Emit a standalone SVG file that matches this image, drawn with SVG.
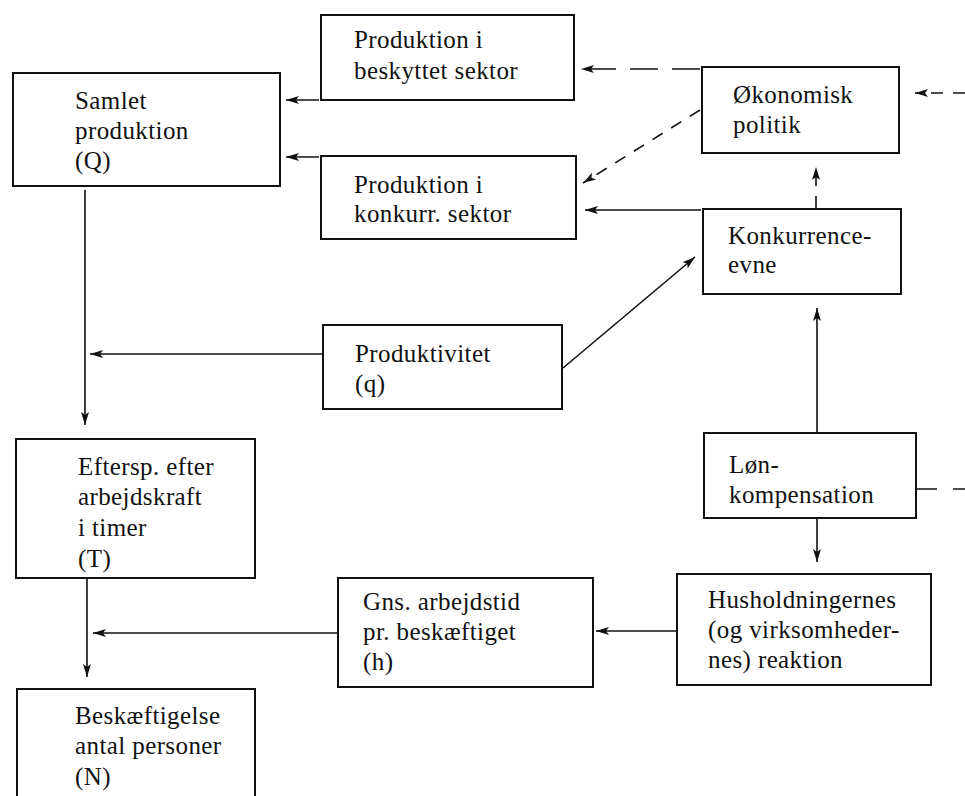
<svg xmlns="http://www.w3.org/2000/svg" width="965" height="796" viewBox="0 0 965 796">
<style>
.box{fill:#fff;stroke:#111;stroke-width:2}
.t{font-family:"Liberation Serif","Times New Roman",serif;font-size:25px;letter-spacing:0.4px;fill:#111}
.c{fill:none;stroke:#111;stroke-width:1.6}
.d{stroke-dasharray:28 14}
.ds{stroke-dasharray:12 10}
</style>
<defs>
<marker id="ah" markerWidth="14" markerHeight="10" refX="13" refY="5" orient="auto" markerUnits="userSpaceOnUse">
<path d="M0,1 L13,5 L0,9 L3,5 z" fill="#111"/>
</marker>
</defs>
<rect width="965" height="796" fill="#fff"/>
<g id="connectors">
<line class="c" x1="319" y1="100" x2="286" y2="100" marker-end="url(#ah)"/>
<line class="c" x1="319" y1="157" x2="286" y2="157" marker-end="url(#ah)"/>
<line class="c d" x1="700" y1="69" x2="581" y2="69" marker-end="url(#ah)"/>
<line class="c ds" x1="965" y1="93" x2="915" y2="93" marker-end="url(#ah)"/>
<line class="c ds" x1="700" y1="110" x2="583" y2="183" marker-end="url(#ah)"/>
<line class="c ds" x1="816" y1="208" x2="816" y2="167" marker-end="url(#ah)"/>
<line class="c" x1="701" y1="210" x2="585" y2="210" marker-end="url(#ah)"/>
<line class="c" x1="563" y1="368" x2="695" y2="257" marker-end="url(#ah)"/>
<line class="c" x1="322" y1="354" x2="90" y2="354" marker-end="url(#ah)"/>
<line class="c" x1="85" y1="190" x2="85" y2="425" marker-end="url(#ah)"/>
<line class="c" x1="87" y1="578" x2="87" y2="677" marker-end="url(#ah)"/>
<line class="c" x1="338" y1="633" x2="93" y2="633" marker-end="url(#ah)"/>
<line class="c" x1="817" y1="433" x2="817" y2="308" marker-end="url(#ah)"/>
<line class="c" x1="817" y1="518" x2="817" y2="562" marker-end="url(#ah)"/>
<line class="c" x1="677" y1="631" x2="596" y2="631" marker-end="url(#ah)"/>
<line class="c" x1="916" y1="489" x2="965" y2="489" stroke-dasharray="21 16"/>
</g>
<g id="samlet">
<rect class="box" x="13" y="73" width="267" height="113"/>
<text class="t" x="75" y="109">Samlet</text>
<text class="t" x="75" y="139">produktion</text>
<text class="t" x="75" y="169">(Q)</text>
</g>
<g id="beskyttet">
<rect class="box" x="321" y="15" width="253" height="85"/>
<text class="t" x="354" y="48">Produktion i</text>
<text class="t" x="354" y="79">beskyttet sektor</text>
</g>
<g id="konkurr">
<rect class="box" x="321" y="156" width="255" height="83"/>
<text class="t" x="354" y="193">Produktion i</text>
<text class="t" x="354" y="222">konkurr. sektor</text>
</g>
<g id="okonomisk">
<rect class="box" x="702" y="67" width="197" height="86"/>
<text class="t" x="733" y="103">Økonomisk</text>
<text class="t" x="733" y="133">politik</text>
</g>
<g id="konkurrenceevne">
<rect class="box" x="703" y="209" width="198" height="85"/>
<text class="t" x="728" y="244">Konkurrence-</text>
<text class="t" x="728" y="273">evne</text>
</g>
<g id="produktivitet">
<rect class="box" x="323" y="325" width="239" height="84"/>
<text class="t" x="355" y="362">Produktivitet</text>
<text class="t" x="355" y="392">(q)</text>
</g>
<g id="eftersp">
<rect class="box" x="16" y="439" width="239" height="139"/>
<text class="t" x="78" y="475">Eftersp. efter</text>
<text class="t" x="78" y="505">arbejdskraft</text>
<text class="t" x="78" y="536">i timer</text>
<text class="t" x="78" y="567">(T)</text>
</g>
<g id="loen">
<rect class="box" x="704" y="433" width="212" height="85"/>
<text class="t" x="729" y="473">Løn-</text>
<text class="t" x="729" y="503">kompensation</text>
</g>
<g id="gns">
<rect class="box" x="338" y="578" width="255" height="109"/>
<text class="t" x="363" y="610">Gns. arbejdstid</text>
<text class="t" x="363" y="640">pr. beskæftiget</text>
<text class="t" x="363" y="670">(h)</text>
</g>
<g id="husholdning">
<rect class="box" x="677" y="574" width="254" height="111"/>
<text class="t" x="708" y="608">Husholdningernes</text>
<text class="t" x="708" y="638">(og virksomheder-</text>
<text class="t" x="708" y="668">nes) reaktion</text>
</g>
<g id="beskaeftigelse">
<rect class="box" x="17" y="689" width="238" height="130"/>
<text class="t" x="75" y="724">Beskæftigelse</text>
<text class="t" x="75" y="754">antal personer</text>
<text class="t" x="75" y="785">(N)</text>
</g>
</svg>
